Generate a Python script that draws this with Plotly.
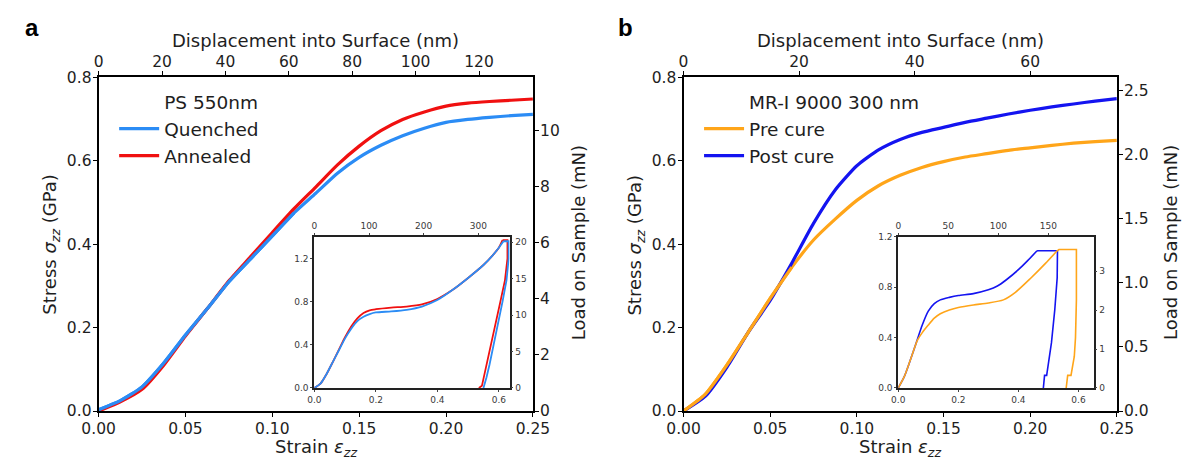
import plotly.graph_objects as go

W, H = 1197, 472

# ---------------- data ----------------
# Main panels: strain (eps_zz) vs stress (GPa)
strain_main = [0.0, 0.0125, 0.025, 0.0375, 0.05, 0.0625, 0.075, 0.0875, 0.10, 0.1125,
               0.125, 0.1375, 0.15, 0.1625, 0.175, 0.1875, 0.20, 0.2125, 0.225, 0.2375, 0.25]
stress_quenched = [0.003, 0.025, 0.058, 0.115, 0.182, 0.245, 0.31, 0.365, 0.42, 0.475,
                   0.522, 0.57, 0.608, 0.637, 0.66, 0.678, 0.692, 0.699, 0.704, 0.708, 0.711]
stress_annealed = [0.0, 0.022, 0.052, 0.11, 0.18, 0.245, 0.312, 0.37, 0.428, 0.485,
                   0.537, 0.59, 0.635, 0.672, 0.699, 0.717, 0.731, 0.738, 0.742, 0.745, 0.748]
stress_pre = [0.0, 0.04, 0.11, 0.19, 0.27, 0.345, 0.41, 0.46, 0.505, 0.54,
              0.565, 0.584, 0.598, 0.609, 0.617, 0.625, 0.631, 0.637, 0.642, 0.646, 0.649]
stress_post = [0.0, 0.035, 0.105, 0.19, 0.265, 0.355, 0.45, 0.53, 0.588, 0.626,
               0.651, 0.668, 0.68, 0.692, 0.702, 0.712, 0.721, 0.729, 0.736, 0.743, 0.749]

# Inset a (full load-unload cycle); loading part first, then hold + unloading
ins_a_q_x = [0, 0.02, 0.04, 0.06, 0.08, 0.10, 0.12, 0.14, 0.16, 0.18, 0.20, 0.25, 0.30, 0.35, 0.40,
             0.45, 0.50, 0.55, 0.58, 0.60, 0.615, 0.632, 0.632, 0.625, 0.612, 0.598, 0.584, 0.57, 0.56, 0.55]
ins_a_q_y = [0, 0.04, 0.13, 0.24, 0.35, 0.46, 0.55, 0.62, 0.66, 0.685, 0.70, 0.71, 0.725, 0.755, 0.815,
             0.91, 1.02, 1.14, 1.23, 1.30, 1.36, 1.36, 1.2, 1.0, 0.8, 0.6, 0.4, 0.22, 0.1, 0.0]
ins_a_q_peak = 20
ins_a_a_x = [0, 0.02, 0.04, 0.06, 0.08, 0.10, 0.12, 0.14, 0.16, 0.18, 0.20, 0.25, 0.30, 0.35, 0.40,
             0.45, 0.50, 0.55, 0.58, 0.60, 0.612, 0.628, 0.628, 0.62, 0.605, 0.59, 0.575, 0.56, 0.55, 0.545, 0.535]
ins_a_a_y = [0, 0.04, 0.13, 0.24, 0.355, 0.47, 0.57, 0.645, 0.695, 0.72, 0.73, 0.745, 0.755, 0.775, 0.825,
             0.91, 1.02, 1.14, 1.23, 1.30, 1.37, 1.37, 1.2, 1.0, 0.8, 0.6, 0.4, 0.2, 0.07, 0.02, 0.0]
ins_a_a_peak = 20

# Inset b
ins_b_post_x = [0, 0.02, 0.04, 0.06, 0.08, 0.10, 0.12, 0.14, 0.17, 0.20, 0.25, 0.30, 0.33, 0.36, 0.40,
                0.43, 0.462, 0.53, 0.529, 0.521, 0.51, 0.50, 0.494, 0.487, 0.483]
ins_b_post_y = [0, 0.09, 0.22, 0.36, 0.50, 0.61, 0.67, 0.70, 0.72, 0.735, 0.75, 0.78, 0.81, 0.86, 0.94,
                1.01, 1.09, 1.09, 0.875, 0.62, 0.36, 0.18, 0.10, 0.10, 0.0]
ins_b_post_peak = 16
ins_b_pre_x = [0, 0.02, 0.04, 0.064, 0.08, 0.10, 0.12, 0.14, 0.17, 0.20, 0.25, 0.30, 0.35, 0.39, 0.44,
               0.49, 0.529, 0.535, 0.593, 0.593, 0.59, 0.586, 0.575, 0.564, 0.559]
ins_b_pre_y = [0, 0.09, 0.22, 0.38, 0.44, 0.50, 0.555, 0.59, 0.62, 0.64, 0.66, 0.675, 0.70, 0.76, 0.87,
               0.99, 1.09, 1.10, 1.10, 0.70, 0.40, 0.25, 0.10, 0.10, 0.0]
ins_b_pre_peak = 16

# Tick values
main_x_ticks = [0.0, 0.05, 0.10, 0.15, 0.20, 0.25]
main_y_ticks = [0.0, 0.2, 0.4, 0.6, 0.8]
a_top_ticks = [0, 20, 40, 60, 80, 100, 120]
a_right_ticks = [0, 2, 4, 6, 8, 10]
b_top_ticks = [0, 20, 40, 60]
b_right_ticks = [0.0, 0.5, 1.0, 1.5, 2.0, 2.5]
ins_x_ticks = [0.0, 0.2, 0.4, 0.6]
ins_y_ticks = [0.0, 0.4, 0.8, 1.2]
ins_a_top_ticks = [0, 100, 200, 300]
ins_a_right_ticks = [0, 5, 10, 15, 20]
ins_b_top_ticks = [0, 50, 100, 150]
ins_b_right_ticks = [0, 1, 2, 3]

C_QUENCH = "#2b8cf5"
C_ANNEAL = "#f01010"
C_PRE = "#ffa519"
C_POST = "#1414f0"

# ---------------- geometry helpers (pixels -> paper) ----------------
def px_x(a, b):
    return [a / W, b / W]

def px_y(top, bottom):
    return [1 - bottom / H, 1 - top / H]

FONT = "DejaVu Sans"
TXT = "#1e1e1e"

fig = go.Figure()


def inset_curve(xs, ys, peak, color, width, xa, ya):
    # smooth loading branch, straight hold/unloading branch
    fig.add_trace(go.Scatter(x=xs[:peak + 1], y=ys[:peak + 1], mode="lines", showlegend=False,
                             line=dict(color=color, width=width, shape="spline", smoothing=0.7),
                             xaxis=xa, yaxis=ya))
    fig.add_trace(go.Scatter(x=xs[peak:], y=ys[peak:], mode="lines", showlegend=False,
                             line=dict(color=color, width=width), xaxis=xa, yaxis=ya))


SPL = dict(shape="spline", smoothing=0.6)

# ---- main a
fig.add_trace(go.Scatter(x=[None], y=[None], name="PS 550nm", mode="lines",
                         line=dict(color="rgba(0,0,0,0)", width=3), legend="legend",
                         legendgroup="a0", hoverinfo="skip", xaxis="x", yaxis="y"))
fig.add_trace(go.Scatter(x=strain_main, y=stress_quenched, name="Quenched", mode="lines",
                         line=dict(color=C_QUENCH, width=3.2, **SPL),
                         legend="legend", legendgroup="a1", xaxis="x", yaxis="y"))
fig.add_trace(go.Scatter(x=strain_main, y=stress_annealed, name="Annealed", mode="lines",
                         line=dict(color=C_ANNEAL, width=3.2, **SPL),
                         legend="legend", legendgroup="a2", xaxis="x", yaxis="y"))
fig.add_trace(go.Scatter(x=strain_main[:10], y=stress_quenched[:10], mode="lines", showlegend=False,
                         line=dict(color=C_QUENCH, width=3.2, **SPL), xaxis="x", yaxis="y"))
fig.add_trace(go.Scatter(x=[None], y=[None], showlegend=False, hoverinfo="skip",
                         xaxis="x2", yaxis="y2"))
# ---- inset a
inset_curve(ins_a_a_x, ins_a_a_y, ins_a_a_peak, C_ANNEAL, 1.8, "x3", "y3")
inset_curve(ins_a_q_x, ins_a_q_y, ins_a_q_peak, C_QUENCH, 1.8, "x3", "y3")
fig.add_trace(go.Scatter(x=[None], y=[None], showlegend=False, hoverinfo="skip",
                         xaxis="x4", yaxis="y4"))
# ---- main b
fig.add_trace(go.Scatter(x=[None], y=[None], name="MR-I 9000 300 nm", mode="lines",
                         line=dict(color="rgba(0,0,0,0)", width=3), legend="legend2",
                         legendgroup="b0", hoverinfo="skip", xaxis="x5", yaxis="y5"))
fig.add_trace(go.Scatter(x=strain_main, y=stress_pre, name="Pre cure", mode="lines",
                         line=dict(color=C_PRE, width=3.2, **SPL),
                         legend="legend2", legendgroup="b1", xaxis="x5", yaxis="y5"))
fig.add_trace(go.Scatter(x=strain_main, y=stress_post, name="Post cure", mode="lines",
                         line=dict(color=C_POST, width=3.2, **SPL),
                         legend="legend2", legendgroup="b2", xaxis="x5", yaxis="y5"))
fig.add_trace(go.Scatter(x=strain_main[:6], y=stress_pre[:6], mode="lines", showlegend=False,
                         line=dict(color=C_PRE, width=3.2, **SPL), xaxis="x5", yaxis="y5"))
fig.add_trace(go.Scatter(x=[None], y=[None], showlegend=False, hoverinfo="skip",
                         xaxis="x6", yaxis="y6"))
# ---- inset b
inset_curve(ins_b_post_x, ins_b_post_y, ins_b_post_peak, C_POST, 1.6, "x7", "y7")
inset_curve(ins_b_pre_x, ins_b_pre_y, ins_b_pre_peak, C_PRE, 1.6, "x7", "y7")
fig.add_trace(go.Scatter(x=[None], y=[None], showlegend=False, hoverinfo="skip",
                         xaxis="x8", yaxis="y8"))


def main_axis(**kw):
    d = dict(showgrid=False, zeroline=False, showline=True, linecolor="black", linewidth=2,
             ticks="outside", ticklen=4, tickwidth=1.3, tickcolor="black", ticklabelstandoff=-2,
             tickfont=dict(family=FONT, size=15.5, color=TXT), fixedrange=True)
    d.update(kw)
    return d


def inset_axis(**kw):
    d = dict(showgrid=False, zeroline=False, showline=True, linecolor="#222", linewidth=1.8,
             ticks="outside", ticklen=2, tickwidth=1, tickcolor="#444",
             tickfont=dict(family=FONT, size=9, color="#3a3a3a"), fixedrange=True)
    d.update(kw)
    return d


DA = px_x(84, 531)
DB = px_x(686, 1132)
DY = px_y(71, 418)
DIA = px_x(306, 507)
DIB = px_x(907, 1108)
DIY = px_y(237, 394)

LEG = dict(yanchor="top", xanchor="left", bgcolor="rgba(0,0,0,0)", itemwidth=40,
           font=dict(family=FONT, size=18.5, color=TXT), tracegroupgap=2, traceorder="normal")

fig.update_layout(
    width=W, height=H,
    margin=dict(l=0, r=0, t=0, b=0),
    paper_bgcolor="white", plot_bgcolor="white",
    font=dict(family=FONT, color=TXT),
    # main a
    xaxis=main_axis(domain=DA, range=[0, 0.25], tickvals=main_x_ticks, tickformat=".2f", anchor="y"),
    yaxis=main_axis(domain=DY, range=[0, 0.8], tickvals=main_y_ticks, tickformat=".1f", anchor="x"),
    xaxis2=main_axis(overlaying="x", side="top", anchor="y", range=[0, 137], tickvals=a_top_ticks),
    yaxis2=main_axis(overlaying="y", side="right", anchor="x", range=[0, 11.88], tickvals=a_right_ticks),
    # inset a
    xaxis3=inset_axis(domain=DIA, range=[0, 0.635], tickvals=ins_x_ticks, tickformat=".1f", anchor="y3"),
    yaxis3=inset_axis(domain=DIY, range=[0, 1.4], tickvals=ins_y_ticks, tickformat=".1f", anchor="x3"),
    xaxis4=inset_axis(overlaying="x3", side="top", anchor="y3", range=[0, 357], tickvals=ins_a_top_ticks),
    yaxis4=inset_axis(overlaying="y3", side="right", anchor="x3", range=[0, 20.7], tickvals=ins_a_right_ticks),
    # main b
    xaxis5=main_axis(domain=DB, range=[0, 0.25], tickvals=main_x_ticks, tickformat=".2f", anchor="y5"),
    yaxis5=main_axis(domain=DY, range=[0, 0.8], tickvals=main_y_ticks, tickformat=".1f", anchor="x5"),
    xaxis6=main_axis(overlaying="x5", side="top", anchor="y5", range=[0, 75], tickvals=b_top_ticks),
    yaxis6=main_axis(overlaying="y5", side="right", anchor="x5", range=[0, 2.6], tickvals=b_right_ticks,
                     tickformat=".1f"),
    # inset b
    xaxis7=inset_axis(domain=DIB, range=[0, 0.65], tickvals=ins_x_ticks, tickformat=".1f", anchor="y7"),
    yaxis7=inset_axis(domain=DIY, range=[0, 1.2], tickvals=ins_y_ticks, tickformat=".1f", anchor="x7"),
    xaxis8=inset_axis(overlaying="x7", side="top", anchor="y7", range=[0, 195], tickvals=ins_b_top_ticks),
    yaxis8=inset_axis(overlaying="y7", side="right", anchor="x7", range=[0, 3.88], tickvals=ins_b_right_ticks),
    legend=dict(x=100 / W, y=1 - 77 / H, **LEG),
    legend2=dict(x=702 / W, y=1 - 77 / H, **LEG),
    showlegend=True,
)

ann = []


def text(x, y, s, size=18, angle=0, **kw):
    ann.append(dict(x=x / W, y=1 - y / H, xref="paper", yref="paper", text=s, showarrow=False,
                    textangle=angle, xanchor="center", yanchor="middle",
                    font=dict(family=kw.pop("family", FONT), size=size, color=kw.pop("color", TXT)), **kw))


text(15, 19, "<b>a</b>", size=24, family="Liberation Sans", color="black")
text(626, 19, "<b>b</b>", size=24, family="Liberation Sans", color="black")
for cx, lx, rx in [((84 + 531) / 2, 35, 578), ((686 + 1132) / 2, 637, 1187)]:
    text(cx, 33, "Displacement into Surface (nm)", size=18)
    text(cx, 456, "Strain <i>ε</i><sub><i>zz</i></sub>", size=18)
    text(lx, 245, "Stress <i>σ</i><sub><i>zz</i></sub> (GPa)", size=18, angle=-90)
    text(rx, 243, "Load on Sample (mN)", size=18, angle=-90)

fig.update_layout(annotations=ann)

fig.write_html("out.html", config={"displayModeBar": False},
               post_script="document.body.style.margin='0';document.body.style.overflow='hidden';")
